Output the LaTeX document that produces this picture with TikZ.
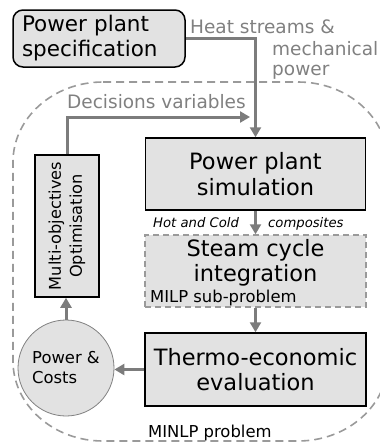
\documentclass[tikz,border=0pt]{standalone}
\usepackage{fontspec}
\setmainfont{DejaVu Sans}
\usetikzlibrary{arrows.meta}
\definecolor{boxfill}{HTML}{E2E2E2}
\definecolor{flowgray}{HTML}{7C7C7C}
\definecolor{dashgray}{HTML}{9A9A9A}
\definecolor{txtgray}{HTML}{808080}
\tikzset{
  solidbox/.style={draw=black, line width=1.5pt, fill=boxfill, inner sep=0pt, align=center,
    font=\fontsize{22.5}{25.5}\selectfont},
  dashbox/.style={draw=dashgray, line width=1.5pt, dash pattern=on 6pt off 4pt, fill=boxfill, inner sep=0pt},
  flow/.style={draw=flowgray, line width=3pt, -{Triangle[length=10pt,width=11pt]}},
  graytxt/.style={text=txtgray, inner sep=0pt, font=\fontsize{18.5}{22}\selectfont},
  smalltxt/.style={inner sep=0pt, font=\fontsize{13.2}{15}\selectfont\itshape},
  midtxt/.style={inner sep=0pt, font=\fontsize{16.4}{20}\selectfont}
}
\begin{document}
\begin{tikzpicture}[x=1pt, y=-1pt]
\useasboundingbox (0,0) rectangle (380,447);
% outer MINLP boundary
\draw[draw=dashgray, line width=1.6pt, dash pattern=on 8pt off 5pt]
  (103,82) -- (298,82) arc(-90:0:90 and 80) -- (388,361) arc(0:90:90 and 80)
  -- (103,441) arc(90:180:90 and 80) -- (13,162) arc(180:270:90 and 80) -- cycle;
% nodes
\node[draw=black, line width=1.5pt, fill=boxfill, rounded corners=10pt, align=left,
  text width=154pt, inner xsep=9pt, inner ysep=0pt, minimum height=57pt,
  font=\fontsize{21.5}{25}\selectfont] (spec) at (99,38.5) {Power plant\\specification};
\node[solidbox, minimum width=220pt, minimum height=72pt] (sim) at (255.5,174) {Power plant\\simulation};
\node[dashbox, minimum width=221pt, minimum height=72pt] (steam) at (255.5,271) {};
\node[inner sep=0pt, align=center, font=\fontsize{22.5}{25.5}\selectfont] (steamtxt) at (255.5,263) {Steam cycle\\integration};
\node[midtxt, anchor=base west] (milp) at (150,302) {MILP sub-problem};
\node[solidbox, minimum width=221pt, minimum height=73pt] (thermo) at (255.5,369.5) {Thermo-economic\\evaluation};
\node[draw=black, line width=1.5pt, fill=boxfill, rotate=90, minimum width=142pt, minimum height=64pt,
  inner sep=0pt, align=center, font=\fontsize{16.2}{21}\selectfont] (multi) at (67,226) {Multi-objectives\\Optimisation};
\node[circle, draw=txtgray, line width=0.8pt, fill=boxfill, minimum size=96pt, inner sep=0pt,
  align=left, font=\fontsize{16.4}{20}\selectfont] (pc) at (66,368) {Power \&\\Costs};
% labels
\node[graytxt, anchor=base west] (heat1) at (190,33) {Heat streams \&};
\node[graytxt, anchor=base west] (heat2) at (272,55) {mechanical};
\node[graytxt, anchor=base west] (heat3) at (272,75) {power};
\node[graytxt, anchor=base west] (dec) at (67,108) {Decisions variables};
\node[smalltxt, anchor=base west] (hot) at (153,227) {Hot and Cold};
\node[smalltxt, anchor=base west] (comp) at (268,227) {composites};
\node[midtxt, anchor=base west] (minlp) at (148,437) {MINLP problem};
\coordinate (dectip) at (250,117);
% connectors
\draw[flow] (spec.east) -| (sim.north);
\draw[flow] (multi.east) |- (dectip);
\draw[flow] (sim.south) -- (steam.north);
\draw[flow] (steam.south) -- (thermo.north);
\draw[flow] (thermo.west) -- (thermo.west -| pc.east);
\draw[flow] (pc.north) -- (pc.north |- multi.west);
\end{tikzpicture}
\end{document}
